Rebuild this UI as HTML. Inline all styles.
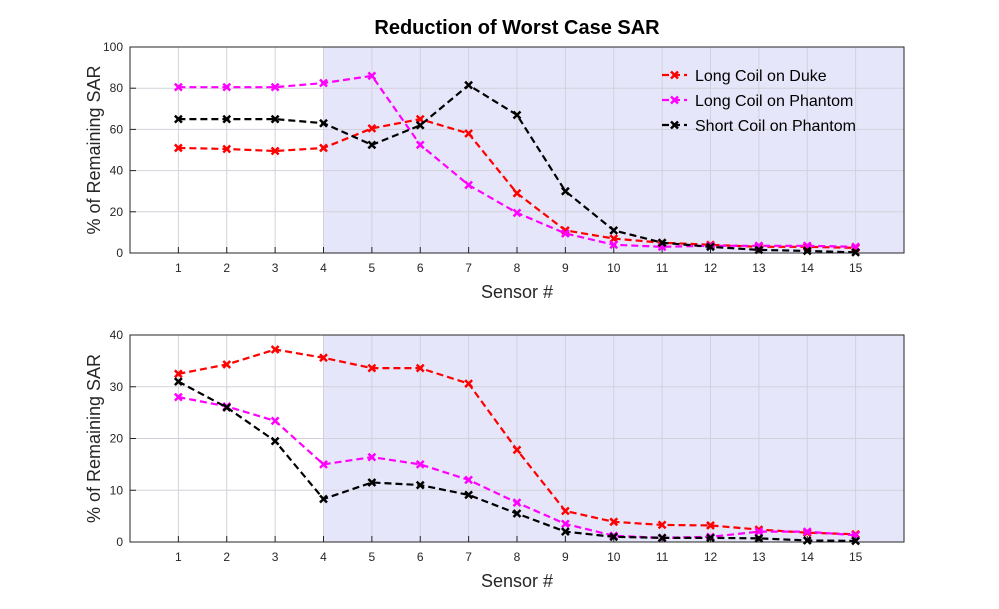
<!DOCTYPE html>
<html><head><meta charset="utf-8">
<style>
html,body{margin:0;padding:0;background:#fff;}
svg{display:block;font-family:"Liberation Sans",Arial,sans-serif;}
</style></head>
<body>
<svg id="chart" width="999" height="609" viewBox="0 0 999 609" xmlns="http://www.w3.org/2000/svg">
<text x="517" y="34" text-anchor="middle" font-size="20" font-weight="bold">Reduction of Worst Case SAR</text>
</svg>
<script>
const sensors = [1,2,3,4,5,6,7,8,9,10,11,12,13,14,15];
const topDuke = [51,50.5,49.5,51,60.5,65,58,29,11,7,5,4,3,3,2.5];
const topPhantom = [80.5,80.5,80.5,82.5,86,52.5,33,19.5,9.5,4,3,3.5,3.5,3.5,3];
const topShort = [65,65,65,63,52.5,62,81.5,67,30,11,5,3,1.5,1,0.3];
const botDuke = [32.5,34.3,37.2,35.6,33.6,33.6,30.6,17.8,6,3.9,3.3,3.2,2.4,1.8,1.5];
const botPhantom = [28,26.2,23.4,15,16.4,15,12,7.6,3.5,1.2,0.8,1,2,2,1.3];
const botShort = [31,26,19.5,8.3,11.5,11,9.1,5.5,2,1,0.8,0.8,0.7,0.3,0.2];
const topTicks = [0,20,40,60,80,100];
const botTicks = [0,10,20,30,40];
const seriesNames = ["Long Coil on Duke","Long Coil on Phantom","Short Coil on Phantom"];
const colors = ["#ff0000","#ff00ff","#000000"];
const shadeStart = 4;

const NS="http://www.w3.org/2000/svg";
const svg=document.getElementById('chart');
function mk(tag,attrs,parent){const e=document.createElementNS(NS,tag);for(const k in attrs)e.setAttribute(k,attrs[k]);(parent||svg).appendChild(e);return e;}

function panel(name,top,bottom,ymax,ticks,series,legend){
  const L=130,R=904;
  const xs=v=>L+(v/16)*(R-L);
  const ys=v=>bottom-(v/ymax)*(bottom-top);
  const g=mk('g',{});
  
  
  mk('rect',{x:L,y:top,width:R-L,height:bottom-top,fill:'#fff'},g);
  const sh=mk('rect',{x:xs(shadeStart),y:top,width:R-xs(shadeStart),height:bottom-top,fill:'#e6e6fa'},g);
  
  
  sensors.forEach(s=>{mk('line',{x1:xs(s),x2:xs(s),y1:top,y2:bottom,stroke:'#d2d2dc','stroke-width':1},g);});
  ticks.forEach(t=>{mk('line',{x1:L,x2:R,y1:ys(t),y2:ys(t),stroke:'#d2d2dc','stroke-width':1},g);});
  mk('rect',{x:L,y:top,width:R-L,height:bottom-top,fill:'none',stroke:'#262626','stroke-width':1},g);
  sensors.forEach(s=>{
    mk('line',{x1:xs(s),x2:xs(s),y1:bottom,y2:bottom-6,stroke:'#262626'},g);
    const t=mk('text',{x:xs(s),y:bottom+19,'text-anchor':'middle','font-size':12,fill:'#262626'},g);
    t.textContent=s;
    
    
  });
  ticks.forEach(v=>{
    mk('line',{x1:L,x2:L+6,y1:ys(v),y2:ys(v),stroke:'#262626'},g);
    const t=mk('text',{x:L-7,y:ys(v)+4,'text-anchor':'end','font-size':12,fill:'#262626'},g);
    t.textContent=v;
    
    
  });
  const xt=mk('text',{x:(L+R)/2,y:bottom+45,'text-anchor':'middle','font-size':18,fill:'#262626'},g);
  xt.textContent='Sensor #';
  
  
  const cy=(top+bottom)/2;
  const yt=mk('text',{x:100,y:cy,'text-anchor':'middle','font-size':18,fill:'#262626',transform:`rotate(-90 100 ${cy})`},g);
  yt.textContent='% of Remaining SAR';
  
  
  series.forEach((vals,i)=>{
    const pts=vals.map((v,j)=>xs(sensors[j])+','+ys(v)).join(' ');
    const pl=mk('polyline',{points:pts,fill:'none',stroke:colors[i],'stroke-width':2.2,'stroke-dasharray':'7,4'},g);
    
    
    vals.forEach((v,j)=>{
      const x=xs(sensors[j]),y=ys(v),d=3.5;
      const m=mk('path',{d:`M${x-d},${y-d}L${x+d},${y+d}M${x-d},${y+d}L${x+d},${y-d}`,stroke:colors[i],'stroke-width':2.5},g);
      
      
    });
  });
  if(legend){
    const lg=mk('g',{},g);
    
    
    seriesNames.forEach((n,i)=>{
      const y=75+i*25;
      const e=mk('g',{},lg);
      
      
      mk('line',{x1:662,x2:687,y1:y,y2:y,stroke:colors[i],'stroke-width':2.2,'stroke-dasharray':'7,4'},e);
      mk('path',{d:`M${674.5-3.5},${y-3.5}L${674.5+3.5},${y+3.5}M${674.5-3.5},${y+3.5}L${674.5+3.5},${y-3.5}`,stroke:colors[i],'stroke-width':2.5},e);
      const t=mk('text',{x:695,y:y+6,'font-size':16,fill:'#000'},e);
      t.textContent=n;
    });
  }
}
panel('top',47,253,100,topTicks,[topDuke,topPhantom,topShort],true);
panel('bottom',335,542,40,botTicks,[botDuke,botPhantom,botShort],false);
</script>
</body></html>
